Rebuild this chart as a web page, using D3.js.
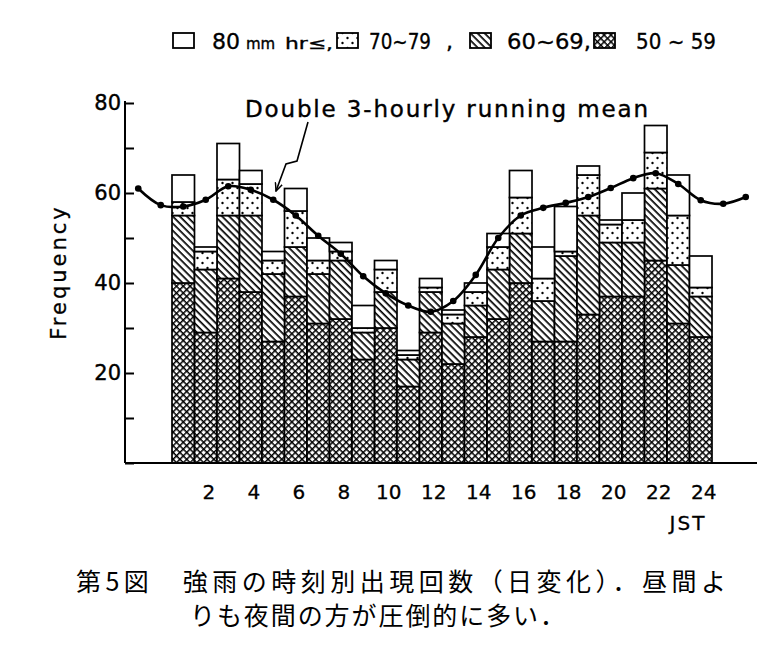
<!DOCTYPE html>
<html><head><meta charset="utf-8">
<script src="https://cdn.jsdelivr.net/npm/d3@7"></script>
<style>html,body{margin:0;padding:0;background:#fff;}svg{display:block;}</style>
</head><body>
<svg id="chart" width="768" height="653"></svg>
<script>
// ---- data ----
const hours = d3.range(1, 25);
const v50 = [40,29,41,38,27,37,31,32,23,30,17,29,22,28,32,40,27,27,33,37,37,45,31,28];
const v60 = [15,14,14,17,15,11,11,13,6,8,6,9,9,7,11,11,9,19,22,12,12,16,13,9];
const v70 = [3,4,8,7,3,8,3,2,1,5,1,1,2,3,5,8,5,1,9,4,5,8,11,2];
const v80 = [6,1,8,3,2,5,5,2,5,2,1,2,1,2,3,6,7,10,2,1,6,6,9,7];
const meanHours = d3.range(-1, 27);
const meanVals = [61,57.3,57,58.5,61.5,60.7,58.5,55,50.5,46.5,41.5,37.7,35,33.6,36,41.8,50,55,56.7,57.8,59.1,61.1,63.3,64.4,62,58.4,57.6,59.1];
const yTicks = [20,40,60,80];
const yMinor = [10,30,50,70];
const xTicks = [2,4,6,8,10,12,14,16,18,20,22,24];
const seriesKeys = ["c50","c60","c70","c80"];

const svg = d3.select("#chart");
svg.append("rect").attr("width",768).attr("height",653).attr("fill","#fff");

// ---- patterns ----
const defs = svg.append("defs");
const pc = defs.append("pattern").attr("id","p50").attr("patternUnits","userSpaceOnUse")
  .attr("width",4.8).attr("height",4.8).attr("patternTransform","rotate(45)");
pc.append("rect").attr("width",4.8).attr("height",4.8).attr("fill","#fff");
pc.append("rect").attr("width",4.8).attr("height",1.5).attr("fill","#000");
pc.append("rect").attr("width",1.5).attr("height",4.8).attr("fill","#000");
const ph = defs.append("pattern").attr("id","p60").attr("patternUnits","userSpaceOnUse")
  .attr("width",5).attr("height",5).attr("patternTransform","rotate(45)");
ph.append("rect").attr("width",5).attr("height",5).attr("fill","#fff");
ph.append("rect").attr("width",5).attr("height",1.7).attr("fill","#000");
const pd = defs.append("pattern").attr("id","p70").attr("patternUnits","userSpaceOnUse")
  .attr("width",10).attr("height",10);
pd.append("rect").attr("width",10).attr("height",10).attr("fill","#fff");
pd.append("circle").attr("cx",2.5).attr("cy",3).attr("r",1.2).attr("fill","#000");
pd.append("circle").attr("cx",7.5).attr("cy",8).attr("r",1.2).attr("fill","#000");
const fills = {c50:"url(#p50)",c60:"url(#p60)",c70:"url(#p70)",c80:"#fff"};

// arrow marker
defs.append("marker").attr("id","arr").attr("viewBox","0 0 10 10").attr("refX",9).attr("refY",5)
  .attr("markerWidth",9).attr("markerHeight",9).attr("orient","auto").attr("markerUnits","userSpaceOnUse")
  .append("path").attr("d","M0,1 L9,5 L0,9").attr("fill","none").attr("stroke","#000").attr("stroke-width",1.6);

// ---- scales ----
const x = d3.scaleLinear().domain([0,24]).range([172,712]);
const y = d3.scaleLinear().domain([0,80]).range([463,103]);

const data = hours.map((h,i)=>({hour:h,c50:v50[i],c60:v60[i],c70:v70[i],c80:v80[i]}));
const stack = d3.stack().keys(seriesKeys)(data);

// ---- bars ----
const g = svg.append("g");
stack.forEach(layer=>{
  g.selectAll(null).data(layer).enter().append("rect")
    .attr("x",d=>x(d.data.hour-1))
    .attr("width",d=>x(d.data.hour)-x(d.data.hour-1))
    .attr("y",d=>y(d[1]))
    .attr("height",d=>y(d[0])-y(d[1]))
    .attr("fill",fills[layer.key])
    .attr("stroke","#000").attr("stroke-width",1.7);
});

const TF = "DejaVu Sans";
// ---- axes ----
const yAxis = d3.axisRight(y).tickValues(yTicks.concat(yMinor).concat([0])).tickSize(9).tickFormat("");
const ya = svg.append("g").attr("transform","translate(125,0)").call(yAxis);
ya.select(".domain").attr("d","M0,463V101").attr("stroke","#000").attr("stroke-width",2);
ya.selectAll(".tick line").attr("stroke","#000").attr("stroke-width",2);
svg.append("g").selectAll("text").data(yTicks).enter().append("text")
  .attr("x",121).attr("y",d=>y(d)+7).attr("text-anchor","end")
  .attr("font-family",TF).attr("font-size",21).attr("stroke","#000").attr("stroke-width",0.4).text(d=>d);

const xAxis = d3.axisBottom(x).tickValues([]).tickSize(0);
const xa = svg.append("g").attr("transform","translate(0,463)").call(xAxis);
xa.select(".domain").attr("d","M125,0H757").attr("stroke","#000").attr("stroke-width",2.2);
svg.append("g").selectAll("text").data(xTicks).enter().append("text")
  .attr("x",d=>x(d-0.5)+3).attr("y",499).attr("text-anchor","middle")
  .attr("font-family",TF).attr("font-size",20).attr("stroke","#000").attr("stroke-width",0.3).text(d=>d);
svg.append("text").attr("x",688).attr("y",530).attr("text-anchor","middle")
  .attr("font-family",TF).attr("font-size",20).attr("letter-spacing",2).attr("stroke","#000").attr("stroke-width",0.3).text("JST");
svg.append("text").attr("transform","translate(66,272) rotate(-90)").attr("text-anchor","middle")
  .attr("font-family",TF).attr("font-size",21).attr("letter-spacing",3).attr("stroke","#000").attr("stroke-width",0.3).text("Frequency");

// ---- running mean line ----
const line = d3.line().x((d,i)=>x(meanHours[i]-0.5)).y(d=>y(d)).curve(d3.curveCatmullRom.alpha(0.5));
svg.append("path").datum(meanVals).attr("d",line).attr("fill","none").attr("stroke","#000").attr("stroke-width",2.6);
svg.append("g").selectAll("circle").data(meanVals).enter().append("circle")
  .attr("cx",(d,i)=>x(meanHours[i]-0.5)).attr("cy",d=>y(d)).attr("r",3.3).attr("fill","#000");

// ---- annotation ----
svg.append("text").attr("x",245).attr("y",117).attr("textLength",403).attr("lengthAdjust","spacing")
  .attr("font-family",TF).attr("font-size",23).attr("stroke","#000").attr("stroke-width",0.4).text("Double 3-hourly running mean");
svg.append("path").attr("d","M308,122 L297,161 L286,164 L276,191").attr("fill","none")
  .attr("stroke","#000").attr("stroke-width",1.6).attr("marker-end","url(#arr)");

// ---- legend ----
const leg = svg.append("g");
const boxes = [{k:"c80",x:173},{k:"c70",x:337},{k:"c60",x:470},{k:"c50",x:594}];
boxes.forEach(b=>{
  leg.append("rect").attr("x",b.x).attr("y",33).attr("width",21).attr("height",15)
    .attr("fill",fills[b.k]).attr("stroke","#000").attr("stroke-width",1.8);
});
function lt(xp, txt, size){ return leg.append("text").attr("x",xp).attr("y",49).attr("font-size",size)
  .attr("font-family",TF).attr("stroke","#000").attr("stroke-width",0.35).text(txt);}
lt(212,"80",22);
lt(246,"mm",15);
lt(285,"hr≤,",16).attr("textLength",48).attr("lengthAdjust","spacingAndGlyphs");
lt(369,"70~79",22).attr("textLength",62).attr("lengthAdjust","spacingAndGlyphs");
lt(446,",",22);
lt(507,"60~69,",22).attr("textLength",84).attr("lengthAdjust","spacingAndGlyphs");
lt(636,"50 ~ 59",22).attr("textLength",80).attr("lengthAdjust","spacingAndGlyphs");

// ---- caption ----
svg.append("text").attr("x",76).attr("y",591).attr("textLength",650).attr("lengthAdjust","spacing")
  .attr("font-family","Noto Sans CJK JP").attr("font-size",25).text("第5図　強雨の時刻別出現回数（日変化）．昼間よ");
svg.append("text").attr("x",190).attr("y",625).attr("textLength",375).attr("lengthAdjust","spacing")
  .attr("font-family","Noto Sans CJK JP").attr("font-size",25).text("りも夜間の方が圧倒的に多い．");
</script>
</body></html>
